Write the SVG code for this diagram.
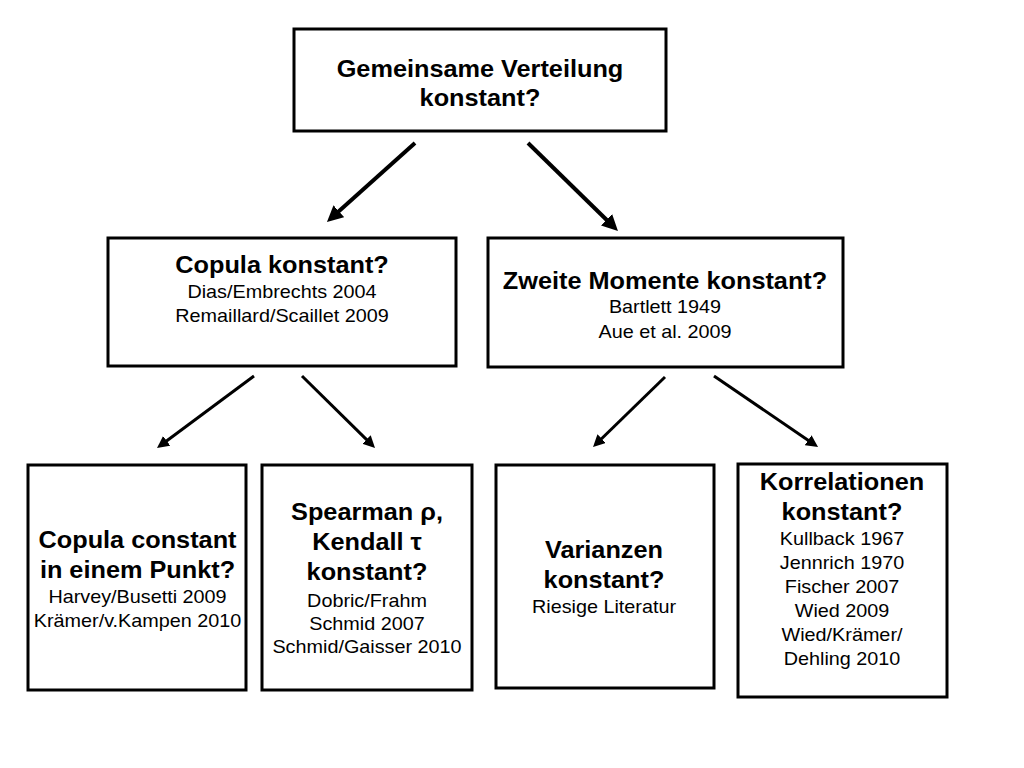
<svg xmlns="http://www.w3.org/2000/svg" width="1024" height="768" viewBox="0 0 1024 768">
<defs>
<style>
.box{fill:#fff;stroke:#000;stroke-width:3}
.t{font-family:"Liberation Sans",Arial,sans-serif;text-anchor:middle;fill:#000}
.b{font-weight:bold;font-size:23px}
.r{font-size:18px}
.c1{stroke:#000;stroke-width:4;fill:none;marker-end:url(#ah)}
.c2{stroke:#000;stroke-width:3;fill:none;marker-end:url(#ah)}
</style>
<marker id="ah" viewBox="0 0 10 10" refX="4" refY="5" markerWidth="4" markerHeight="4" markerUnits="strokeWidth" orient="auto">
<path d="M0,0 L10,5 L0,10 z" fill="#000"/>
</marker>
</defs>
<rect width="1024" height="768" fill="#fff"/>
<g id="connectors">
<line class="c1" x1="415" y1="143" x2="334.1" y2="215.6"/>
<line class="c1" x1="528" y1="143" x2="611.1" y2="224.3"/>
<line class="c2" x1="254" y1="376" x2="162.8" y2="443.7"/>
<line class="c2" x1="302" y1="376" x2="369.9" y2="442.9"/>
<line class="c2" x1="665" y1="377" x2="598.2" y2="442"/>
<line class="c2" x1="714" y1="376" x2="812.1" y2="442.9"/>
</g>
<g id="n-gemeinsam">
<rect class="box" x="294" y="29" width="372" height="102"/>
<g class="t" transform="translate(480 0) scale(1.1 1)">
<text class="b" x="0" y="77">Gemeinsame Verteilung</text>
<text class="b" x="0" y="106">konstant?</text>
</g>
</g>
<g id="n-copula">
<rect class="box" x="108" y="238" width="348" height="128"/>
<g class="t" transform="translate(282 0) scale(1.1 1)">
<text class="b" x="0" y="273">Copula konstant?</text>
<text class="r" x="0" y="298">Dias/Embrechts 2004</text>
<text class="r" x="0" y="322">Remaillard/Scaillet 2009</text>
</g>
</g>
<g id="n-zweite">
<rect class="box" x="488" y="238" width="355" height="129"/>
<g class="t" transform="translate(665 0) scale(1.1 1)">
<text class="b" x="0" y="289">Zweite Momente konstant?</text>
<text class="r" x="0" y="313">Bartlett 1949</text>
<text class="r" x="0" y="338">Aue et al. 2009</text>
</g>
</g>
<g id="n-punkt">
<rect class="box" x="28" y="465" width="218" height="225"/>
<g class="t" transform="translate(137.5 0) scale(1.1 1)">
<text class="b" x="0" y="548">Copula constant</text>
<text class="b" x="0" y="578">in einem Punkt?</text>
<text class="r" x="0" y="603">Harvey/Busetti 2009</text>
<text class="r" x="0" y="627">Krämer/v.Kampen 2010</text>
</g>
</g>
<g id="n-spearman">
<rect class="box" x="262" y="465" width="210" height="225"/>
<g class="t" transform="translate(367 0) scale(1.1 1)">
<text class="b" x="0" y="520">Spearman ρ,</text>
<text class="b" x="0" y="550">Kendall τ</text>
<text class="b" x="0" y="580">konstant?</text>
<text class="r" x="0" y="607">Dobric/Frahm</text>
<text class="r" x="0" y="630">Schmid 2007</text>
<text class="r" x="0" y="653">Schmid/Gaisser 2010</text>
</g>
</g>
<g id="n-varianzen">
<rect class="box" x="496" y="465" width="218" height="223"/>
<g class="t" transform="translate(604 0) scale(1.1 1)">
<text class="b" x="0" y="558">Varianzen</text>
<text class="b" x="0" y="588">konstant?</text>
<text class="r" x="0" y="613">Riesige Literatur</text>
</g>
</g>
<g id="n-korrelationen">
<rect class="box" x="738" y="464" width="209" height="233"/>
<g class="t" transform="translate(842 0) scale(1.1 1)">
<text class="b" x="0" y="490">Korrelationen</text>
<text class="b" x="0" y="520">konstant?</text>
<text class="r" x="0" y="545">Kullback 1967</text>
<text class="r" x="0" y="569">Jennrich 1970</text>
<text class="r" x="0" y="593">Fischer 2007</text>
<text class="r" x="0" y="617">Wied 2009</text>
<text class="r" x="0" y="641">Wied/Krämer/</text>
<text class="r" x="0" y="665">Dehling 2010</text>
</g>
</g>
</svg>
